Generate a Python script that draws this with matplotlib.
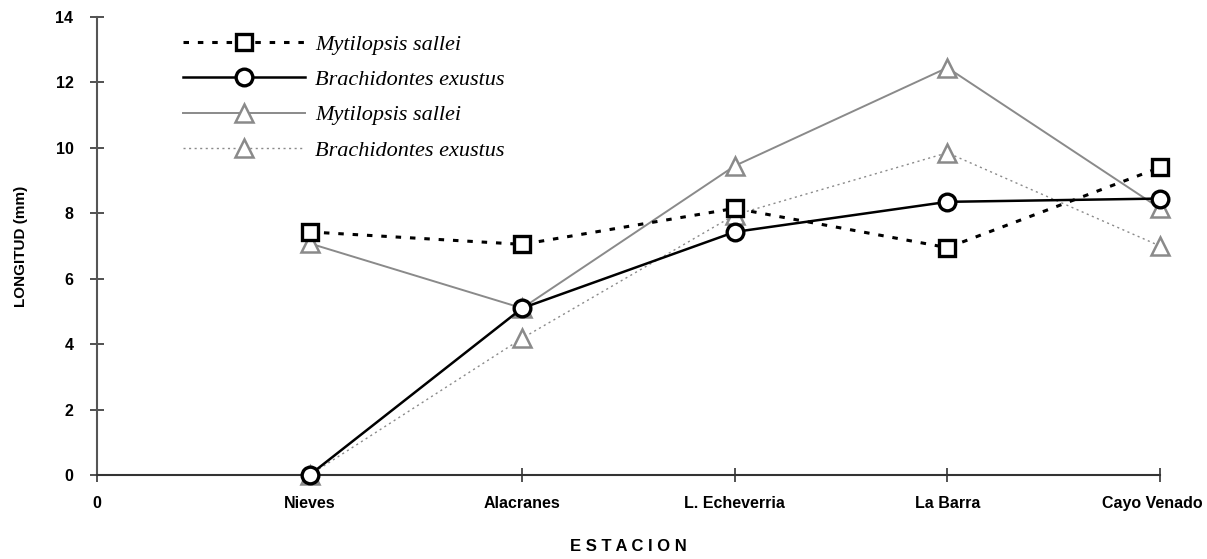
import matplotlib
matplotlib.use("Agg")
import matplotlib.pyplot as plt
from matplotlib.transforms import ScaledTranslation

stations = ["0", "Nieves", "Alacranes", "L. Echeverria", "La Barra", "Cayo Venado"]
xpos = [1, 2, 3, 4, 5]
mytilopsis_a = [7.43, 7.05, 8.15, 6.95, 9.4]
brachidontes_a = [0.0, 5.1, 7.43, 8.35, 8.45]
mytilopsis_b = [7.08, 5.1, 9.45, 12.45, 8.15]
brachidontes_b = [0.0, 4.18, 7.95, 9.85, 7.0]
yticks = [0, 2, 4, 6, 8, 10, 12, 14]

tickfam = ["Liberation Sans", "DejaVu Sans"]

fig = plt.figure(figsize=(12.07, 5.59), dpi=100)
ax = fig.add_axes([97/1207, 84/559, (1160-97)/1207, (475-17)/559])

gray = "#8a8a8a"
ax.plot(xpos, mytilopsis_a, color="black", lw=2.2, linestyle=(0, (1.8, 2.9)),
        marker="s", ms=11, mfc="white", mec="black", mew=2.4, label="Mytilopsis sallei",
        zorder=5, clip_on=False)
ax.plot(xpos, brachidontes_a, color="black", lw=1.8, linestyle="-",
        marker="o", ms=12, mfc="white", mec="black", mew=2.4, label="Brachidontes exustus",
        zorder=4, clip_on=False)
ax.plot(xpos, mytilopsis_b, color=gray, lw=1.4, linestyle="-",
        marker="^", ms=13, mfc="white", mec=gray, mew=1.8, label="Mytilopsis sallei",
        zorder=3, clip_on=False)
ax.plot(xpos, brachidontes_b, color=gray, lw=1.0, linestyle=(0, (1.5, 2.5)),
        marker="^", ms=13, mfc="white", mec=gray, mew=1.8, label="Brachidontes exustus",
        zorder=2, clip_on=False)

ax.set_xlim(0, 5)
ax.set_ylim(0, 14)
ax.set_xticks(range(6))
ax.set_xticklabels(stations)
ax.set_yticks(yticks)
for s in ["top", "right"]:
    ax.spines[s].set_visible(False)
ax.spines["left"].set_color("#555555")
ax.spines["bottom"].set_color("#333333")
ax.spines["left"].set_linewidth(1.5)
ax.spines["bottom"].set_linewidth(1.5)
ax.tick_params(axis="both", direction="inout", length=10, width=1.2, colors="#333333",
               labelcolor="black")
ax.tick_params(axis="y", pad=12)
ax.tick_params(axis="x", pad=10)
for lab in ax.get_xticklabels() + ax.get_yticklabels():
    lab.set_family(tickfam)
    lab.set_fontweight("bold")
    lab.set_fontsize(11.5)
xl = ax.get_xticklabels()
xl[-1].set_transform(xl[-1].get_transform() + ScaledTranslation(-8/100, 0, fig.dpi_scale_trans))

ax.set_ylabel("LONGITUD (mm)", family=tickfam, fontweight="bold", fontsize=11, labelpad=20)
ax.set_xlabel("E S T A C I O N", family=tickfam, fontweight="bold", fontsize=12, labelpad=20)

leg = ax.legend(loc="upper left", bbox_to_anchor=(0.081, 0.963), frameon=False,
                borderpad=0, borderaxespad=0,
                handlelength=5.5, handletextpad=0.45, labelspacing=0.67,
                prop={"family": "Liberation Serif", "style": "italic", "size": 16})
fig.savefig("out.png", dpi=100)
